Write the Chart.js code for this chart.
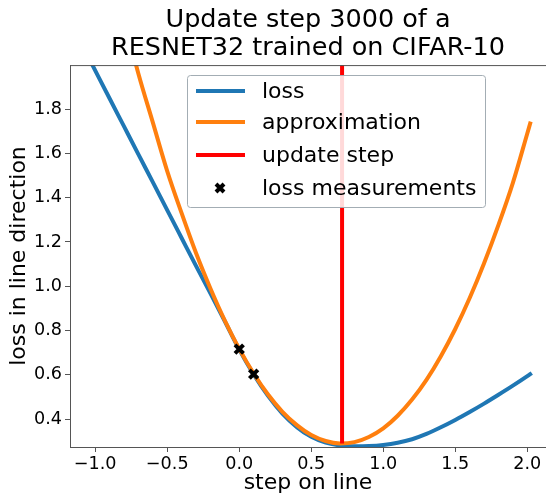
<!DOCTYPE html>
<html>
<head>
<meta charset="utf-8">
<script src="https://cdn.jsdelivr.net/npm/chart.js@4/dist/chart.umd.min.js"></script>
<style>
  html, body { margin: 0; padding: 0; background: #fff; }
  #wrap { width: 546px; height: 493px; }
</style>
</head>
<body>
<div id="wrap"><canvas id="chart" width="546" height="493"></canvas></div>
<script>
// values
const lossSteps = [-1.02, -0.9, -0.8, -0.7, -0.6, -0.5, -0.4, -0.3, -0.2, -0.1, 0.0, 0.1, 0.2, 0.3, 0.4, 0.5, 0.6, 0.7, 0.8, 0.9, 1.0, 1.1, 1.2, 1.3, 1.4, 1.5, 1.6, 1.7, 1.8, 1.9, 2.0, 2.02];
const lossValues = [2.0, 1.848, 1.722, 1.596, 1.47, 1.344, 1.218, 1.092, 0.968, 0.842, 0.714, 0.602, 0.505, 0.425, 0.364, 0.320, 0.294, 0.281, 0.277, 0.278, 0.283, 0.293, 0.309, 0.333, 0.363, 0.396, 0.432, 0.470, 0.510, 0.551, 0.594, 0.603];

const approxSteps = [-1.02, -0.9, -0.8, -0.7, -0.6, -0.5, -0.4, -0.3, -0.2, -0.1, 0.0, 0.1, 0.2, 0.3, 0.4, 0.5, 0.6, 0.7, 0.8, 0.9, 1.0, 1.1, 1.2, 1.3, 1.4, 1.5, 1.6, 1.7, 1.8, 1.9, 2.0, 2.02];
const approxValues = [2.80, 2.47, 2.21, 1.96, 1.74, 1.52, 1.33, 1.15, 0.99, 0.845, 0.717, 0.606, 0.511, 0.433, 0.373, 0.328, 0.301, 0.290, 0.296, 0.319, 0.358, 0.415, 0.488, 0.577, 0.684, 0.807, 0.947, 1.104, 1.277, 1.467, 1.690, 1.735];

const updateStep = [0.714, 0.714];
const updateRange = [0.29, 2.05];

const measureSteps = [0.0, 0.1];
const measureValues = [0.716, 0.603];

const xTicks = [-1.0, -0.5, 0.0, 0.5, 1.0, 1.5, 2.0];
const yTicks = [0.4, 0.6, 0.8, 1.0, 1.2, 1.4, 1.6, 1.8];

const FONT = 'DejaVu Sans';
const toPts = (xs, ys) => xs.map((x, i) => ({ x: x, y: ys[i] }));
const fmt = v => v.toFixed(1).replace('-', '\u2212');

// matplotlib style legend box inside the plot
const boxLegend = {
    id: 'boxLegend',
    afterDatasetsDraw(chart) {
        const ctx = chart.ctx;
        const x0 = 187, y0 = 75, w = 298, h = 132;
        ctx.save();
        ctx.fillStyle = 'rgba(255,255,255,0.85)';
        ctx.strokeStyle = '#a3adb4';
        ctx.lineWidth = 1;
        ctx.beginPath();
        ctx.roundRect(x0 + 0.5, y0 + 0.5, w, h, 3);
        ctx.fill();
        ctx.stroke();
        const rows = [91, 122, 155, 188];
        ctx.font = '22px "' + FONT + '"';
        ctx.textBaseline = 'middle';
        chart.data.datasets.forEach((ds, i) => {
            const y = rows[i];
            if (ds.showLine === false) {
                ctx.strokeStyle = '#000';
                ctx.lineWidth = 4;
                ctx.beginPath();
                ctx.moveTo(216, y - 4); ctx.lineTo(224, y + 4);
                ctx.moveTo(216, y + 4); ctx.lineTo(224, y - 4);
                ctx.stroke();
            } else {
                ctx.strokeStyle = ds.borderColor;
                ctx.lineWidth = 4;
                ctx.beginPath();
                ctx.moveTo(196, y); ctx.lineTo(245, y);
                ctx.stroke();
            }
            ctx.fillStyle = '#000';
            ctx.fillText(ds.label, 262, y + 1);
        });
        ctx.restore();
    }
};

// top spine
const topSpine = {
    id: 'topSpine',
    afterDraw(chart) {
        const a = chart.chartArea, ctx = chart.ctx;
        ctx.save();
        ctx.strokeStyle = '#555';
        ctx.lineWidth = 1;
        ctx.beginPath();
        ctx.moveTo(a.left, a.top + 0.5);
        ctx.lineTo(a.right, a.top + 0.5);
        ctx.stroke();
        ctx.restore();
    }
};

new Chart(document.getElementById('chart'), {
    type: 'scatter',
    data: {
        datasets: [
            {
                label: 'loss',
                data: toPts(lossSteps, lossValues),
                showLine: true,
                borderColor: '#1f77b4',
                borderWidth: 4,
                borderCapStyle: 'square',
                pointRadius: 0,
                cubicInterpolationMode: 'monotone',
                order: 4
            },
            {
                label: 'approximation',
                data: toPts(approxSteps, approxValues),
                showLine: true,
                borderColor: '#ff7f0e',
                borderWidth: 4,
                borderCapStyle: 'square',
                pointRadius: 0,
                cubicInterpolationMode: 'monotone',
                order: 3
            },
            {
                label: 'update step',
                data: toPts(updateStep, updateRange),
                showLine: true,
                borderColor: '#ff0000',
                borderWidth: 4,
                pointRadius: 0,
                order: 2
            },
            {
                label: 'loss measurements',
                data: toPts(measureSteps, measureValues),
                showLine: false,
                pointStyle: 'crossRot',
                pointRadius: 6,
                borderWidth: 4,
                borderColor: '#000',
                backgroundColor: '#000',
                order: 1
            }
        ]
    },
    options: {
        responsive: false,
        animation: false,
        layout: { padding: 0, autoPadding: false },
        plugins: {
            legend: { display: false },
            tooltip: { enabled: false },
            title: {
                display: true,
                fullSize: false,
                text: ['Update step 3000 of a', 'RESNET32 trained on CIFAR-10'],
                color: '#000',
                font: { family: FONT, size: 25.5, weight: 'normal', lineHeight: 1.08 },
                padding: { top: 7, bottom: 3 }
            }
        },
        scales: {
            x: {
                type: 'linear',
                min: -1.175,
                max: 2.13,
                afterBuildTicks: s => { s.ticks = xTicks.map(v => ({ value: v })); },
                afterFit: s => { s.height = 46; s.paddingLeft = 0; s.paddingRight = 0; },
                border: { display: true, color: '#555', width: 1 },
                grid: { drawOnChartArea: false, drawTicks: true, tickLength: 5, color: '#555' },
                ticks: {
                    color: '#000',
                    padding: 2,
                    font: { family: FONT, size: 17.6 },
                    callback: v => fmt(v)
                },
                title: {
                    display: true,
                    text: 'step on line',
                    color: '#000',
                    font: { family: FONT, size: 22 },
                    padding: { top: 0, bottom: -3 }
                }
            },
            y: {
                type: 'linear',
                min: 0.274,
                max: 1.999,
                afterBuildTicks: s => { s.ticks = yTicks.map(v => ({ value: v })); },
                afterFit: s => { s.width = 70; s.paddingTop = 0; s.paddingBottom = 0; },
                border: { display: true, color: '#555', width: 1 },
                grid: { drawOnChartArea: false, drawTicks: true, tickLength: 5, color: '#555' },
                ticks: {
                    color: '#000',
                    padding: 3,
                    font: { family: FONT, size: 17.6 },
                    callback: v => fmt(v)
                },
                title: {
                    display: true,
                    text: 'loss in line direction',
                    color: '#000',
                    font: { family: FONT, size: 22 },
                    padding: { top: 6, bottom: 0 }
                }
            }
        }
    },
    plugins: [boxLegend, topSpine]
});
</script>
</body>
</html>
